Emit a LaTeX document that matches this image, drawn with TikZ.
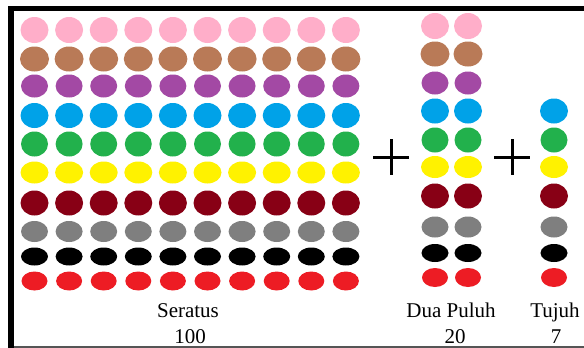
\documentclass[tikz,border=0pt]{standalone}
\usepackage{fontspec}
\setmainfont{Liberation Serif}
\usetikzlibrary{shapes.geometric}
\definecolor{cpink}{RGB}{255,174,201}
\definecolor{cbrown}{RGB}{185,122,87}
\definecolor{cpurple}{RGB}{163,73,164}
\definecolor{cblue}{RGB}{0,162,232}
\definecolor{cgreen}{RGB}{34,177,76}
\definecolor{cyellow}{RGB}{255,242,0}
\definecolor{cmaroon}{RGB}{136,0,21}
\definecolor{cgray}{RGB}{127,127,127}
\definecolor{cblack}{RGB}{0,0,0}
\definecolor{cred}{RGB}{237,28,36}
\definecolor{frameline}{RGB}{85,85,85}
\begin{document}
\begin{tikzpicture}[x=1pt,y=-1pt,
  dot/.style={ellipse,inner sep=0pt,draw=none},
  lbl/.style={font=\fontsize{21}{21}\selectfont,anchor=base,inner sep=0pt},
  plussign/.style={line width=3pt}]
\useasboundingbox (0,0) rectangle (584,348);
\fill[white] (0,0) rectangle (584,348);
\fill[black] (8,6) rectangle (14,348);
\fill[black] (8,6) rectangle (584,11);
\fill[frameline] (14,346) rectangle (584,348);
\foreach \c/\w/\h/\yl/\yr [count=\r] in {
  cpink/28/26/30/26,
  cbrown/29/25/59/54,
  cpurple/27/23/86/83,
  cblue/28/25/115.5/111,
  cgreen/27/25/144/140,
  cyellow/28/22/172.5/167,
  cmaroon/28/25/203/196,
  cgray/27/21/231.5/227,
  cblack/27/18/256.5/253,
  cred/26/19/281/277.5}
{
  \foreach \i in {0,...,9}
    \node[dot,fill=\c,minimum width=\w,minimum height=\h] (L-\r-\i) at ({34.5+34.6*\i},\yl) {};
  \foreach \i in {0,1}
    \node[dot,fill=\c,minimum width=\w,minimum height=\h] (D-\r-\i) at ({435+33*\i},\yr) {};
  \ifnum\r>3
    \node[dot,fill=\c,minimum width=\w,minimum height=\h] (T-\r) at (554,\yr) {};
  \fi
}
\draw[plussign] (373,157) -- (409,157) (391,139) -- (391,175);
\draw[plussign] (494,157) -- (530,157) (512,139) -- (512,175);
\node[lbl] (seratus) at (188,317) {Seratus};
\node[lbl] (n100) at (190,343) {100};
\node[lbl] (duapuluh) at (451,317) {Dua Puluh};
\node[lbl] (n20) at (455,343) {20};
\node[lbl] (tujuh) at (555,317) {Tujuh};
\node[lbl] (n7) at (556,343) {7};
\end{tikzpicture}
\end{document}
